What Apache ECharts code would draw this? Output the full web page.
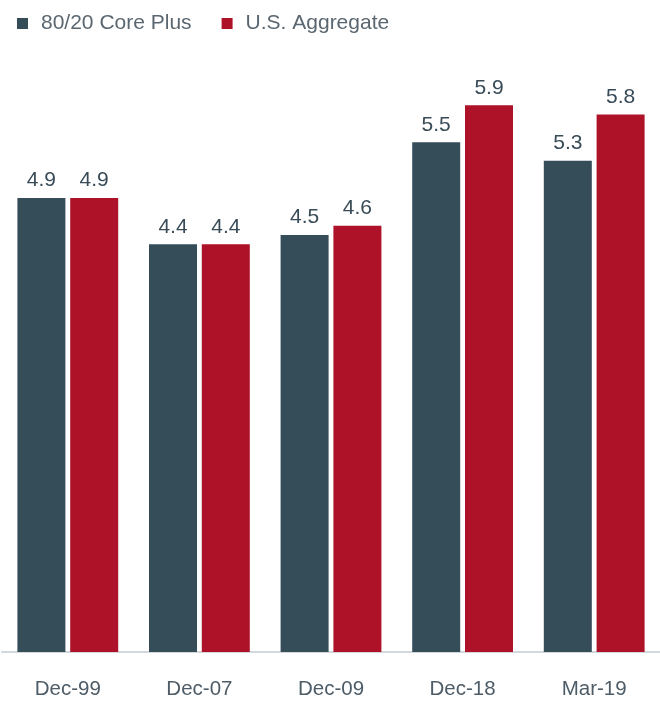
<!DOCTYPE html>
<html><head><meta charset="utf-8">
<script src="https://cdn.jsdelivr.net/npm/echarts@6/dist/echarts.min.js"></script>
<style>html,body{margin:0;padding:0;background:#fff}#c{width:660px;height:704px}</style>
</head><body><div id="c"></div>
<script>
const categories = ['Dec-99','Dec-07','Dec-09','Dec-18','Mar-19'];
const corePlus = [4.9, 4.4, 4.5, 5.5, 5.3];
const usAggregate = [4.9, 4.4, 4.6, 5.9, 5.8];
const seriesNames = ['80/20 Core Plus','U.S. Aggregate'];

const chart = echarts.init(document.getElementById('c'));
const font = 'Liberation Sans, Arial, sans-serif';
const lbl = {show:true, position:'top', distance:7, color:'#384b57', fontSize:21, fontFamily:font, formatter:p=>p.value.toFixed(1)};
chart.setOption({
  animation:false,
  legend:{left:12, top:8, itemWidth:11, itemHeight:11, itemGap:30, icon:'rect',
    textStyle:{color:'#5b6770', fontSize:21, fontFamily:font, padding:[0,0,0,8]},
    data:seriesNames},
  grid:{left:2, right:0, top:96, bottom:52, containLabel:false},
  xAxis:{type:'category', data:categories,
    axisLine:{lineStyle:{color:'#d3d8dc', width:2}}, axisTick:{show:false},
    axisLabel:{color:'#4d5c67', fontSize:20.5, fontFamily:font, margin:27}},
  yAxis:{type:'value', min:0, max:6, show:false, splitLine:{show:false}},
  series:[
    {name:seriesNames[0], type:'bar', data:corePlus, barWidth:48, barGap:'10%', itemStyle:{color:'#354c59'}, label:lbl},
    {name:seriesNames[1], type:'bar', data:usAggregate, barWidth:48, itemStyle:{color:'#ad1229'}, label:lbl}
  ]
});
</script></body></html>
